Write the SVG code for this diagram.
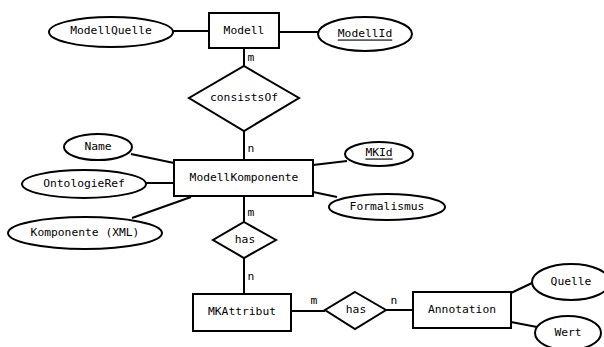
<svg xmlns="http://www.w3.org/2000/svg" width="604" height="347" viewBox="0 0 604 347">
  <style>
    .shape { fill: #ffffff; stroke: #000000; stroke-width: 2; }
    .edge { stroke: #000000; stroke-width: 2; fill: none; }
    text { font-family: "DejaVu Sans Mono", "Liberation Mono", monospace; font-size: 11.3px; fill: #000000; text-anchor: middle; dominant-baseline: central; }
    .key { text-decoration: underline; }
  </style>
  <rect width="604" height="347" fill="#ffffff"/>

  <g id="connectors">
    <line class="edge" x1="173" y1="31" x2="209" y2="31"/>
    <line class="edge" x1="279" y1="32" x2="318" y2="32"/>
    <line class="edge" x1="244" y1="48" x2="244" y2="66"/>
    <line class="edge" x1="244" y1="131" x2="244" y2="160"/>
    <line class="edge" x1="131" y1="154" x2="174" y2="163"/>
    <line class="edge" x1="146" y1="183" x2="174" y2="183"/>
    <line class="edge" x1="132" y1="218" x2="191" y2="197"/>
    <line class="edge" x1="313" y1="165" x2="347" y2="161"/>
    <line class="edge" x1="313" y1="192" x2="337" y2="197"/>
    <line class="edge" x1="244" y1="196" x2="244" y2="222"/>
    <line class="edge" x1="244" y1="258" x2="244" y2="294"/>
    <line class="edge" x1="291" y1="311" x2="325" y2="311"/>
    <line class="edge" x1="386" y1="310" x2="413" y2="310"/>
    <line class="edge" x1="511" y1="293" x2="532" y2="283"/>
    <line class="edge" x1="511" y1="322" x2="537" y2="327"/>
    <text x="251" y="57">m</text>
    <text x="251" y="148">n</text>
    <text x="251" y="212">m</text>
    <text x="251" y="276">n</text>
    <text x="314" y="300">m</text>
    <text x="394" y="300">n</text>
  </g>

  <g id="modell">
    <rect class="shape" x="209" y="13" width="70" height="35"/>
    <text x="244" y="30">Modell</text>
  </g>
  <g id="modellquelle">
    <ellipse class="shape" cx="111" cy="32" rx="62" ry="15"/>
    <text x="111" y="30">ModellQuelle</text>
  </g>
  <g id="modellid">
    <ellipse class="shape" cx="365" cy="34" rx="47" ry="17"/>
    <text class="key" x="365" y="33">ModellId</text>
  </g>
  <g id="consistsof">
    <polygon class="shape" points="244,66 299,98 244,131 189,98"/>
    <text x="244" y="97">consistsOf</text>
  </g>
  <g id="modellkomponente">
    <rect class="shape" x="174" y="160" width="139" height="36"/>
    <text x="244" y="177">ModellKomponente</text>
  </g>
  <g id="name">
    <ellipse class="shape" cx="98" cy="147" rx="34" ry="13"/>
    <text x="98" y="146">Name</text>
  </g>
  <g id="ontologieref">
    <ellipse class="shape" cx="84" cy="184" rx="62" ry="14"/>
    <text x="84" y="183">OntologieRef</text>
  </g>
  <g id="komponente-xml">
    <ellipse class="shape" cx="85" cy="233" rx="77" ry="16"/>
    <text x="85" y="232">Komponente (XML)</text>
  </g>
  <g id="mkid">
    <ellipse class="shape" cx="379" cy="154" rx="34" ry="12"/>
    <text class="key" x="379" y="152">MKId</text>
  </g>
  <g id="formalismus">
    <ellipse class="shape" cx="387" cy="207" rx="58" ry="13"/>
    <text x="387" y="206">Formalismus</text>
  </g>
  <g id="has-attribut">
    <polygon class="shape" points="244,222 276,240 244,258 213,240"/>
    <text x="245" y="239">has</text>
  </g>
  <g id="mkattribut">
    <rect class="shape" x="193" y="294" width="98" height="37"/>
    <text x="242" y="311">MKAttribut</text>
  </g>
  <g id="has-annotation">
    <polygon class="shape" points="355,292 386,310 355,329 325,310"/>
    <text x="356" y="309">has</text>
  </g>
  <g id="annotation">
    <rect class="shape" x="413" y="292" width="98" height="36"/>
    <text x="462" y="309">Annotation</text>
  </g>
  <g id="quelle">
    <ellipse class="shape" cx="571" cy="282" rx="39" ry="18"/>
    <text x="571" y="281">Quelle</text>
  </g>
  <g id="wert">
    <ellipse class="shape" cx="568" cy="333" rx="33" ry="17"/>
    <text x="568" y="332">Wert</text>
  </g>
</svg>
